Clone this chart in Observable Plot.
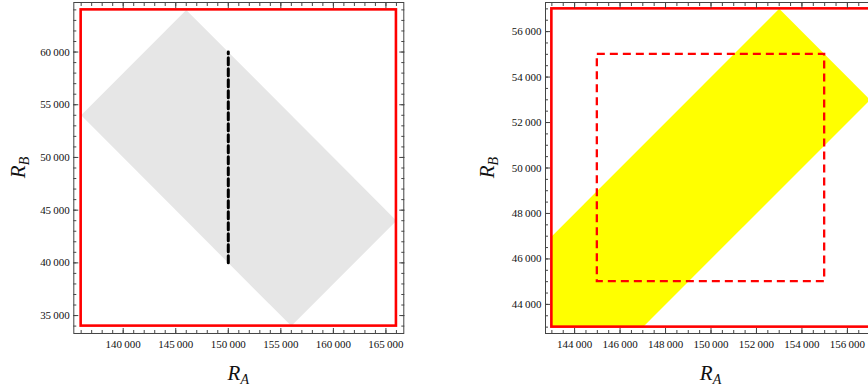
<!DOCTYPE html>
<html><head><meta charset="utf-8">
<script src="https://cdn.jsdelivr.net/npm/d3@7"></script>
<script src="https://cdn.jsdelivr.net/npm/@observablehq/plot@0.6"></script>
<style>
html,body{margin:0;padding:0;background:#fff;}
#wrap{position:relative;width:868px;height:392px;overflow:hidden;background:#fff;}
.panel{position:absolute;top:0;}
.panel text{font-family:'Liberation Serif', 'Times New Roman', serif !important;}
</style></head><body><div id="wrap"></div>
<script>
// ---------- Left panel data ----------
const leftRegionRA = [136000, 146000, 166000, 156000];
const leftRegionRB = [54000, 64000, 44000, 34000];
const leftLineRA = [150000, 150000];
const leftLineRB = [40000, 60000];
const leftBoxRA = [136000, 166000];
const leftBoxRB = [34000, 64000];
const leftTicksRA = [140000, 145000, 150000, 155000, 160000, 165000];
const leftTicksRB = [35000, 40000, 45000, 50000, 55000, 60000];

// ---------- Right panel data ----------
const rightRegionRA = [143000, 143000, 153000, 157000, 147000];
const rightRegionRB = [43000, 47000, 57000, 53000, 43000];
const rightSquareRA = [145000, 155000];
const rightSquareRB = [45000, 55000];
const rightBoxRA = [143000, 157000];
const rightBoxRB = [43000, 57000];
const rightTicksRA = [144000, 146000, 148000, 150000, 152000, 154000, 156000];
const rightTicksRB = [44000, 46000, 48000, 50000, 52000, 54000, 56000];

const fmt = v => String(v).replace(/(\d)(?=(\d{3})+$)/g, "$1\u2009");
const pts = (xs, ys) => xs.map((x, i) => ({x, y: ys[i]}));
const boxOf = (xs, ys) => [{x1: xs[0], x2: xs[1], y1: ys[0], y2: ys[1]}];

function panel(o) {
  const mt = 2, plotH = 331, mr = 12;
  const W = o.marginLeft + o.plotW + mr;
  const frameC = "#444";
  const tk = (axis, anchor, ticks, size) =>
    axis({anchor, ticks, tickSize: size, fill: "none", stroke: frameC, label: null});
  const chart = Plot.plot({
    width: W, height: 392,
    marginLeft: o.marginLeft, marginRight: mr, marginTop: mt, marginBottom: 392 - mt - plotH,
    x: {domain: o.xDomain, label: null},
    y: {domain: o.yDomain, label: null},
    style: {fontFamily: "'Liberation Serif', serif", fontSize: "11px", color: "#111", background: "white", overflow: "visible"},
    marks: [
      Plot.line(o.region, {x: "x", y: "y", fill: o.regionFill, stroke: "none"}),
      Plot.rect(o.box, {x1: "x1", x2: "x2", y1: "y1", y2: "y2", fill: "none", stroke: "#ff0000", strokeWidth: 2.6}),
      ...o.extra,
      Plot.frame({stroke: frameC, strokeWidth: 1}),
      // inward ticks, four sides
      tk(Plot.axisX, "bottom", o.xMinor, -3),
      tk(Plot.axisX, "bottom", o.xTicks, -5),
      tk(Plot.axisX, "top", o.xMinor, -3),
      tk(Plot.axisX, "top", o.xTicks, -5),
      tk(Plot.axisY, "left", o.yMinor, -3),
      tk(Plot.axisY, "left", o.yTicks, -5),
      tk(Plot.axisY, "right", o.yMinor, -3),
      tk(Plot.axisY, "right", o.yTicks, -5),
      // tick labels
      Plot.axisX({anchor: "bottom", ticks: o.xTicks, tickSize: 0, tickPadding: 7, tickFormat: fmt, label: null}),
      Plot.axisY({anchor: "left", ticks: o.yTicks, tickSize: 0, tickPadding: 4, tickFormat: fmt, label: null})
    ]
  });
  chart.classList.add("panel");
  chart.style.left = o.left + "px";
  const svg = d3.select(chart);
  const cx = o.marginLeft + o.plotW / 2;
  const cy = mt + plotH / 2;
  const tx = svg.append("text")
    .attr("x", cx).attr("y", 380).attr("text-anchor", "middle")
    .attr("font-style", "italic")
    .attr("font-size", 21).attr("fill", "#111");
  tx.append("tspan").text("R");
  tx.append("tspan").attr("font-size", 14).attr("dy", 4).text("A");
  const ty = svg.append("text")
    .attr("transform", `translate(${o.yLabelX},${cy}) rotate(-90)`)
    .attr("text-anchor", "middle")
    .attr("font-style", "italic")
    .attr("font-size", 21).attr("fill", "#111");
  ty.append("tspan").text("R");
  ty.append("tspan").attr("font-size", 14).attr("dy", 4).text("B");
  document.getElementById("wrap").appendChild(chart);
}

panel({
  left: 0, marginLeft: 73.3, plotW: 330,
  xDomain: [135300, 166700], yDomain: [33300, 64700],
  region: pts(leftRegionRA, leftRegionRB), regionFill: "#e6e6e6",
  box: boxOf(leftBoxRA, leftBoxRB),
  extra: [Plot.line(pts(leftLineRA, leftLineRB), {x: "x", y: "y", stroke: "#000", strokeWidth: 3, strokeDasharray: "7,4"})],
  xTicks: leftTicksRA, yTicks: leftTicksRB,
  xMinor: d3.range(136000, 166001, 1000), yMinor: d3.range(34000, 64001, 1000),
  yLabelX: 25
});

panel({
  left: 440, marginLeft: 105, plotW: 331,
  xDomain: [142720, 157280], yDomain: [42720, 57280],
  region: pts(rightRegionRA, rightRegionRB), regionFill: "#ffff00",
  box: boxOf(rightBoxRA, rightBoxRB),
  extra: [Plot.rect(boxOf(rightSquareRA, rightSquareRB), {x1: "x1", x2: "x2", y1: "y1", y2: "y2", fill: "none", stroke: "#ff0000", strokeWidth: 2.3, strokeDasharray: "8,5"})],
  xTicks: rightTicksRA, yTicks: rightTicksRB,
  xMinor: d3.range(143000, 157001, 500), yMinor: d3.range(43000, 57001, 500),
  yLabelX: 54
});
</script></body></html>
